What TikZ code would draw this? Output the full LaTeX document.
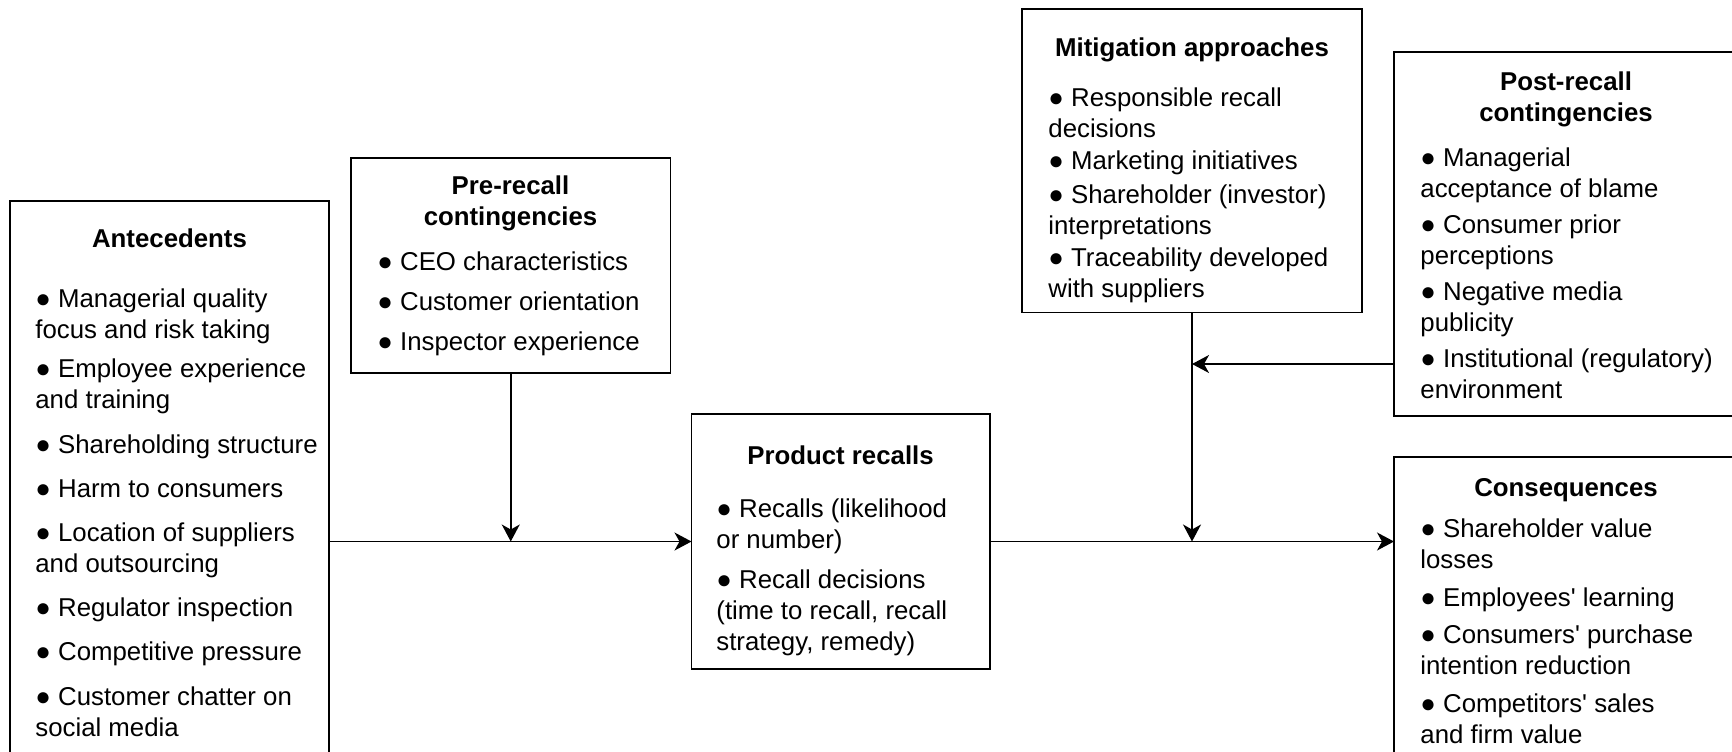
\documentclass[tikz,border=0pt]{standalone}
\usepackage{fontspec}
\setmainfont{Liberation Sans}[Ligatures=TeXOff]
\usetikzlibrary{arrows.meta}
\tikzset{
  box/.style={draw, line width=0.8pt, anchor=north west, inner sep=0pt, outer sep=0pt},
  ttl/.style={font={\fontsize{12.9}{15.5}\selectfont\bfseries}, align=center, anchor=north, inner sep=0pt},
  itm/.style={font={\fontsize{12.9}{15.5}\selectfont}, align=left, anchor=north west, inner sep=0pt},
  arr/.style={line width=0.75pt, -{Stealth[length=8.5pt,width=9pt,inset=2.5pt]}}
}
\newcommand{\fl}{\rule{0pt}{11pt}}
\begin{document}
\begin{tikzpicture}[x=0.5pt,y=-0.5pt]
\useasboundingbox (0,0) rectangle (1732,751);
\clip (0,0) rectangle (1732,751);
\fill[white] (0,0) rectangle (1732,751);
% boxes
\node[box, minimum width=159.5pt, minimum height=289.5pt] (ante) at (10,201) {};
\node[box, minimum width=159.75pt, minimum height=107.5pt] (pre) at (351,158) {};
\node[box, minimum width=149.25pt, minimum height=127.5pt] (prod) at (691.5,414) {};
\node[box, minimum width=170pt, minimum height=151.75pt] (miti) at (1022,9) {};
\node[box, minimum width=180pt, minimum height=182pt] (post) at (1394,52) {};
\node[box, minimum width=180pt, minimum height=160pt] (cons) at (1394,457) {};
% titles
\node[ttl] (anteT) at (169.5,225.5) {\fl Antecedents};
\node[ttl] (preT) at (510.5,172.5) {\fl Pre-recall\\contingencies};
\node[ttl] (prodT) at (840.5,442.5) {\fl Product recalls};
\node[ttl] (mitiT) at (1192,34.5) {\fl Mitigation approaches};
\node[ttl] (postT) at (1566,68.5) {\fl Post-recall\\contingencies};
\node[ttl] (consT) at (1566,474.5) {\fl Consequences};
% items
\node[itm] (anteI) at (35,285.5) {\fl ● Managerial quality\\focus and risk taking\\[4pt]
● Employee experience\\and training\\[6.6pt]
● Shareholding structure\\[6.6pt]
● Harm to consumers\\[6.6pt]
● Location of suppliers\\and outsourcing\\[6.6pt]
● Regulator inspection\\[6.6pt]
● Competitive pressure\\[6.6pt]
● Customer chatter on\\social media};
\node[itm] (preI) at (377,248.5) {\fl ● CEO characteristics\\[4.5pt]
● Customer orientation\\[4.5pt]
● Inspector experience};
\node[itm] (prodI) at (716,495.5) {\fl ● Recalls (likelihood\\or number)\\[4.5pt]
● Recall decisions\\(time to recall, recall\\strategy, remedy)};
\node[itm] (mitiI) at (1048,84.5) {\fl ● Responsible recall\\decisions\\[0.5pt]
● Marketing initiatives\\[1.5pt]
● Shareholder (investor)\\interpretations\\[0.5pt]
● Traceability developed\\with suppliers};
\node[itm] (postI) at (1420,144.5) {\fl ● Managerial\\acceptance of blame\\[2.5pt]
● Consumer prior\\perceptions\\[2.5pt]
● Negative media\\publicity\\[2.5pt]
● Institutional (regulatory)\\environment};
\node[itm] (consI) at (1420,515.5) {\fl ● Shareholder value\\losses\\[3.2pt]
● Employees' learning\\[3.2pt]
● Consumers' purchase\\intention reduction\\[3.2pt]
● Competitors' sales\\and firm value};
% connectors
\coordinate (postout) at (1394,364);
\draw[arr] (prod.west -| ante.east) -- (prod.west);
\draw[arr] (pre.south) -- (pre.south |- prod.west);
\draw[arr] (prod.east) -- (prod.east -| cons.west);
\draw[arr] (miti.south) -- (miti.south |- prod.east);
\draw[arr] (postout) -- (postout -| miti.south);
\end{tikzpicture}
\end{document}
